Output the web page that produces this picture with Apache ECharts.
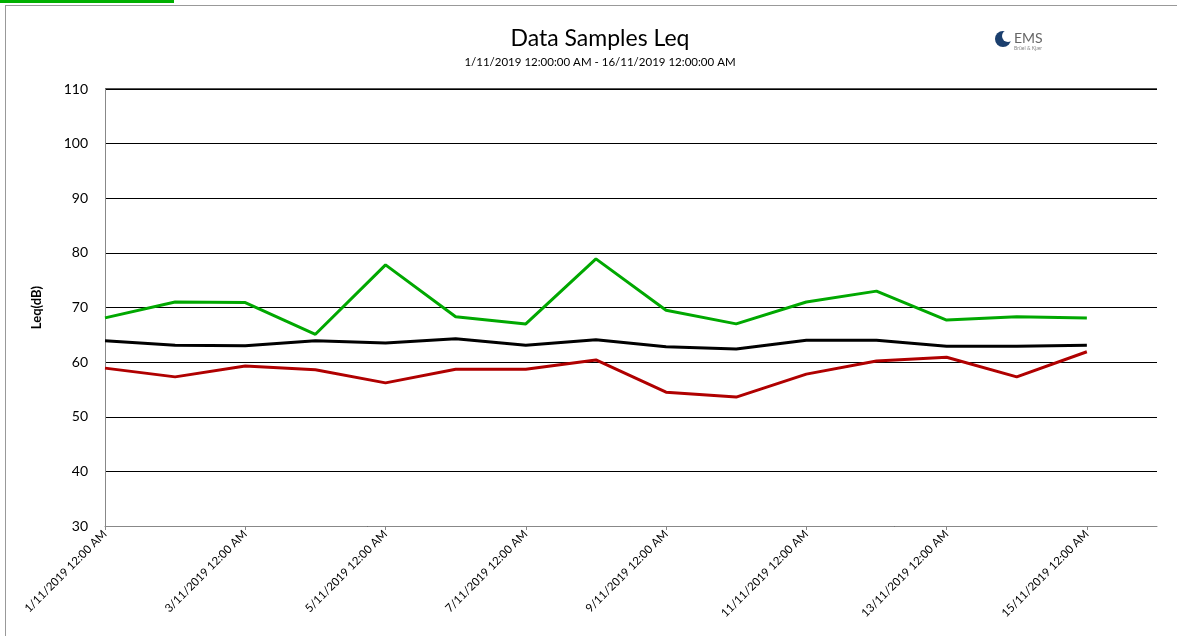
<!DOCTYPE html>
<html>
<head>
<meta charset="utf-8">
<script src="https://cdn.jsdelivr.net/npm/echarts@6/dist/echarts.min.js"></script>
<style>
  html, body { margin: 0; padding: 0; background: #fff; }
  #chart { width: 1177px; height: 636px; }
</style>
</head>
<body>
<div id="chart"></div>
<script>
// categories: one per day, 1/11 .. 16/11
const days = ['1/11/2019 12:00 AM', '2/11/2019 12:00 AM', '3/11/2019 12:00 AM', '4/11/2019 12:00 AM',
    '5/11/2019 12:00 AM', '6/11/2019 12:00 AM', '7/11/2019 12:00 AM', '8/11/2019 12:00 AM',
    '9/11/2019 12:00 AM', '10/11/2019 12:00 AM', '11/11/2019 12:00 AM', '12/11/2019 12:00 AM',
    '13/11/2019 12:00 AM', '14/11/2019 12:00 AM', '15/11/2019 12:00 AM', '16/11/2019 12:00 AM'];

const greenLine = [68.1, 71.0, 70.9, 65.1, 77.8, 68.3, 67.0, 78.9, 69.5, 67.0, 71.0, 73.0, 67.7, 68.3, 68.1];
const blackLine = [63.9, 63.1, 63.0, 63.9, 63.5, 64.3, 63.1, 64.1, 62.8, 62.4, 64.0, 64.0, 62.9, 62.9, 63.1];
const redLine = [58.9, 57.3, 59.3, 58.6, 56.2, 58.7, 58.7, 60.4, 54.5, 53.6, 57.8, 60.2, 60.9, 57.3, 61.9];

const chart = echarts.init(document.getElementById('chart'));
const font = 'Lato, "Open Sans", sans-serif';

chart.setOption({
    backgroundColor: '#fff',
    animation: false,
    title: {
        text: 'Data Samples Leq',
        subtext: '1/11/2019 12:00:00 AM - 16/11/2019 12:00:00 AM',
        left: 595,
        textAlign: 'center',
        top: 22,
        itemGap: 6,
        textStyle: { fontFamily: font, fontSize: 23, fontWeight: 'normal', color: '#000' },
        subtextStyle: { fontFamily: font, fontSize: 11.5, color: '#000' }
    },
    grid: { left: 105, right: 20, top: 89, bottom: 110 },
    xAxis: {
        type: 'category',
        data: days,
        boundaryGap: false,
        axisLine: { lineStyle: { color: '#888', width: 1 } },
        axisTick: { interval: 1, length: 4, lineStyle: { color: '#888' } },
        axisLabel: {
            interval: 1, rotate: 45, margin: 6,
            fontFamily: font, fontSize: 11.5, color: '#000'
        },
        splitLine: { show: false }
    },
    yAxis: {
        type: 'value',
        min: 30,
        max: 110,
        interval: 10,
        name: 'Leq(dB)',
        nameLocation: 'middle',
        nameGap: 62,
        nameTextStyle: { fontFamily: font, fontSize: 13, fontWeight: 'bold', color: '#000' },
        axisLine: { show: true, lineStyle: { color: '#888' } },
        axisTick: { show: false },
        axisLabel: { fontFamily: font, fontSize: 14, color: '#000', margin: 17 },
        splitLine: { lineStyle: { color: '#000', width: 1 } }
    },
    series: [
        { name: 'Max', type: 'line', data: greenLine, showSymbol: false,
          lineStyle: { color: '#00a800', width: 3 }, itemStyle: { color: '#00a800' } },
        { name: 'Avg', type: 'line', data: blackLine, showSymbol: false,
          lineStyle: { color: '#000', width: 3 }, itemStyle: { color: '#000' } },
        { name: 'Min', type: 'line', data: redLine, showSymbol: false,
          lineStyle: { color: '#b00000', width: 3 }, itemStyle: { color: '#b00000' } }
    ],
    graphic: [
        // frame of the cropped report
        { type: 'rect', shape: { x: 0, y: 0, width: 174, height: 3 }, style: { fill: '#00b000' } },
        { type: 'line', shape: { x1: 5.5, y1: 6, x2: 5.5, y2: 636 }, style: { stroke: '#999', lineWidth: 1 } },
        { type: 'line', shape: { x1: 5, y1: 5.5, x2: 1177, y2: 5.5 }, style: { stroke: '#999', lineWidth: 1 } },
        { type: 'line', shape: { x1: 105, y1: 89, x2: 1157, y2: 89 }, style: { stroke: '#555', lineWidth: 2 } },
        // EMS logo
        { type: 'circle', shape: { cx: 1003, cy: 39, r: 8 }, style: { fill: '#1b3f6e' } },
        { type: 'circle', shape: { cx: 1008, cy: 36, r: 6 }, style: { fill: '#fff' } },
        { type: 'text', x: 1014, y: 31, style: { text: 'EMS', fontFamily: font, fontSize: 14, fill: '#666' } },
        { type: 'text', x: 1014, y: 46, style: { text: 'Brüel & Kjær', fontFamily: font, fontSize: 5, fill: '#888' } }
    ]
});
</script>
</body>
</html>
